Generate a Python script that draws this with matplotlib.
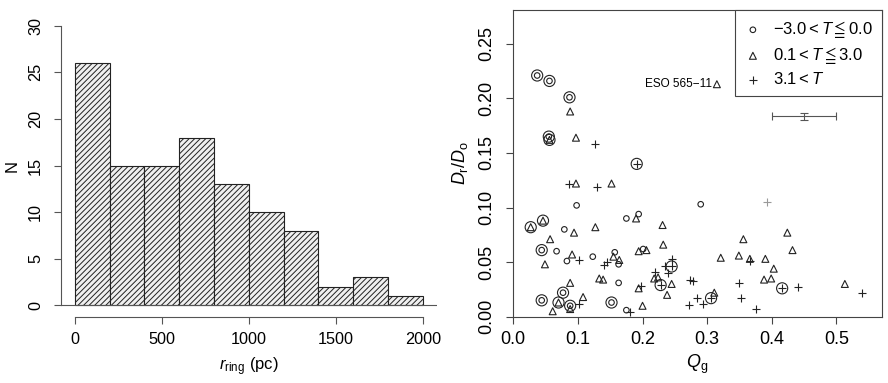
import matplotlib.pyplot as plt
import numpy as np

plt.rcParams['font.family'] = ['Liberation Sans', 'DejaVu Sans']
plt.rcParams['mathtext.fontset'] = 'custom'
plt.rcParams['mathtext.rm'] = 'Liberation Sans'
plt.rcParams['mathtext.it'] = 'Liberation Sans:italic'
plt.rcParams['mathtext.fallback'] = 'stix'
plt.rcParams['hatch.linewidth'] = 0.7

# Left panel: histogram of ring radii
bin_edges = [0, 200, 400, 600, 800, 1000, 1200, 1400, 1600, 1800, 2000]
counts = [26, 15, 15, 18, 13, 10, 8, 2, 3, 1]

# Right panel: D_r/D_o vs Q_g, by Hubble type
circ_q = [0.037, 0.056, 0.087, 0.055, 0.098, 0.290, 0.079, 0.044, 0.067, 0.083, 0.123,
          0.175, 0.194, 0.201, 0.157, 0.163, 0.163, 0.077, 0.044, 0.088, 0.152, 0.175]
circ_d = [0.221, 0.216, 0.201, 0.165, 0.102, 0.103, 0.080, 0.061, 0.060, 0.051, 0.055,
          0.090, 0.094, 0.062, 0.059, 0.048, 0.031, 0.022, 0.015, 0.010, 0.013, 0.006]
circ_ring = [1, 1, 1, 1, 0, 0, 0, 1, 0, 0, 0, 0, 0, 0, 0, 0, 0, 1, 1, 1, 1, 0]

tri_q = [0.088, 0.056, 0.097, 0.097, 0.152, 0.315, 0.027, 0.046, 0.094, 0.057, 0.049,
         0.091, 0.127, 0.190, 0.231, 0.232, 0.194, 0.206, 0.155, 0.164, 0.133, 0.139,
         0.088, 0.070, 0.061, 0.088, 0.108, 0.200, 0.194, 0.218, 0.224, 0.238, 0.245,
         0.311, 0.321, 0.349, 0.356, 0.366, 0.390, 0.403, 0.388, 0.399, 0.424, 0.432, 0.513]
tri_d = [0.188, 0.162, 0.164, 0.122, 0.122, 0.213, 0.082, 0.088, 0.077, 0.071, 0.048,
         0.057, 0.082, 0.090, 0.084, 0.066, 0.060, 0.061, 0.055, 0.052, 0.035, 0.034,
         0.031, 0.013, 0.005, 0.007, 0.018, 0.010, 0.026, 0.035, 0.036, 0.020, 0.030,
         0.022, 0.054, 0.056, 0.071, 0.053, 0.053, 0.044, 0.034, 0.035, 0.077, 0.061, 0.030]
tri_ring = [0, 1, 0, 0, 0, 0, 1, 1, 0, 0, 0, 0, 0, 0, 0, 0, 0, 0, 0, 0, 0, 0,
            0, 1, 0, 0, 0, 0, 0, 0, 0, 0, 0, 0, 0, 0, 0, 0, 0, 0, 0, 0, 0, 0, 0]

plus_q = [0.087, 0.127, 0.129, 0.191, 0.101, 0.141, 0.145, 0.101, 0.180, 0.197, 0.220,
          0.240, 0.235, 0.245, 0.246, 0.228, 0.274, 0.278, 0.272, 0.285, 0.294, 0.306,
          0.349, 0.353, 0.367, 0.375, 0.416, 0.441, 0.539]
plus_d = [0.122, 0.158, 0.119, 0.140, 0.052, 0.047, 0.050, 0.012, 0.004, 0.028, 0.041,
          0.040, 0.046, 0.046, 0.053, 0.029, 0.034, 0.033, 0.011, 0.017, 0.012, 0.017,
          0.031, 0.017, 0.051, 0.007, 0.026, 0.027, 0.022]
plus_ring = [0, 0, 0, 1, 0, 0, 0, 0, 0, 0, 0, 0, 0, 1, 0, 1, 0, 0, 0, 0, 0, 1,
             0, 0, 0, 0, 1, 0, 0]

faint_q = [0.392]
faint_d = [0.105]

err_q, err_d = 0.45, 0.1835
err_dq, err_dd = 0.05, 0.0034

fig = plt.figure(figsize=(8.88, 3.83), dpi=100)
ax1 = fig.add_axes([0.0687, 0.1736, 0.4231, 0.7885])
ax2 = fig.add_axes([0.578, 0.1731, 0.4149, 0.8008])

# ---- histogram ----
ax1.bar(bin_edges[:-1], counts, width=np.diff(bin_edges), align='edge',
        facecolor='#f0f0f0', edgecolor='#222222', hatch='//////', linewidth=0.8)
ax1.axhline(0, color='#555555', lw=0.8)
ax1.set_xlim(-80, 2080)
ax1.set_ylim(-1.2, 31.2)
ax1.set_xticks([0, 500, 1000, 1500, 2000])
ax1.set_yticks([0, 5, 10, 15, 20, 25, 30])
for s in ['top', 'right']:
    ax1.spines[s].set_visible(False)
ax1.spines['left'].set_bounds(0, 30)
ax1.spines['bottom'].set_bounds(0, 2000)
for s in ['left', 'bottom']:
    ax1.spines[s].set_color('#555555')
    ax1.spines[s].set_linewidth(0.8)
ax1.tick_params(length=5, width=0.8, color='#555555', labelsize=11.7, pad=6)
ax1.tick_params(axis='y', pad=8)
for lab in ax1.get_yticklabels():
    lab.set_rotation(90)
    lab.set_va('center')
ax1.set_xlabel(r'$r_{\rm ring}$ (pc)', fontsize=12, labelpad=6)
ax1.set_ylabel('N', fontsize=12, labelpad=6)

# ---- scatter ----
mc = '#222222'
def encircle(q, d, flags):
    q = np.array(q)
    d = np.array(d)
    m = np.array(flags, dtype=bool)
    ax2.scatter(q[m], d[m], s=8**2, marker='o', facecolors='none',
                edgecolors=mc, linewidths=0.8, zorder=3)

h1 = ax2.scatter(circ_q, circ_d, s=4**2, marker='o', facecolors='none',
                 edgecolors=mc, linewidths=0.8, zorder=3, label=r'$-3.0 < T \leqq 0.0$')
h2 = ax2.scatter(tri_q, tri_d, s=5**2, marker='^', facecolors='none',
                 edgecolors=mc, linewidths=0.8, zorder=3, label=r'$0.1 < T \leqq 3.0$')
h3 = ax2.scatter(plus_q, plus_d, s=5.5**2, marker='+', color=mc,
                 linewidths=0.8, zorder=3, label=r'$3.1 < T$')
ax2.scatter(faint_q, faint_d, s=5.5**2, marker='+', color='#999999',
            linewidths=0.8, zorder=3)
encircle(circ_q, circ_d, circ_ring)
encircle(tri_q, tri_d, tri_ring)
encircle(plus_q, plus_d, plus_ring)

ax2.errorbar(err_q, err_d, xerr=err_dq, yerr=err_dd, color='#555555',
             capsize=3, elinewidth=0.8, capthick=0.8)
ax2.text(0.307, 0.213, 'ESO 565\u221211', ha='right', va='center', fontsize=8.5)

ax2.set_xlim(0, 0.57)
ax2.set_ylim(0, 0.281)
ax2.set_xticks([0.0, 0.1, 0.2, 0.3, 0.4, 0.5])
ax2.set_xticklabels(['0.0', '0.1', '0.2', '0.3', '0.4', '0.5'])
ax2.set_yticks([0.0, 0.05, 0.10, 0.15, 0.20, 0.25])
ax2.set_yticklabels(['0.00', '0.05', '0.10', '0.15', '0.20', '0.25'])
for s in ax2.spines.values():
    s.set_color('#444444')
    s.set_linewidth(0.8)
ax2.tick_params(length=5, width=0.8, color='#444444', labelsize=13, pad=5)
ax2.tick_params(axis='y', pad=8)
for lab in ax2.get_yticklabels():
    lab.set_rotation(90)
    lab.set_va('center')
ax2.set_xlabel(r'$Q_{\rm g}$', fontsize=13, labelpad=4)
ax2.set_ylabel(r'$D_{\rm r}/D_{\rm o}$', fontsize=13, labelpad=6)

leg = ax2.legend(handles=[h1, h2, h3], loc='upper right', borderaxespad=0,
                 fancybox=False, framealpha=1, edgecolor='#444444',
                 fontsize=12, handletextpad=0.7, labelspacing=0.3,
                 borderpad=0.55, handlelength=1.0)
leg.get_frame().set_linewidth(0.8)

fig.savefig('out.png', dpi=100)
